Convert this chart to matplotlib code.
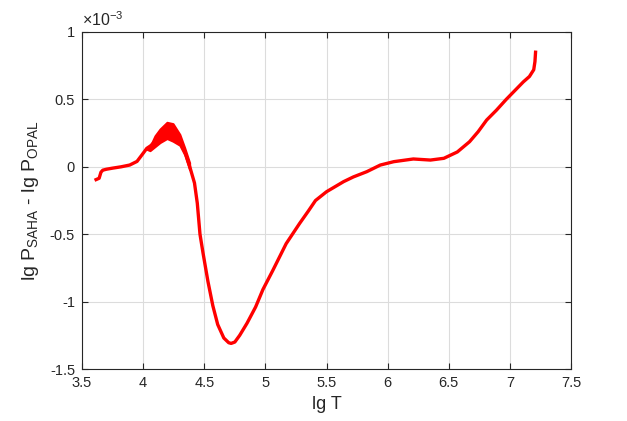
import numpy as np
import matplotlib
matplotlib.use("Agg")
import matplotlib.pyplot as plt

plt.rcParams['font.family'] = ['Liberation Sans', 'DejaVu Sans']
plt.rcParams['mathtext.default'] = 'regular'
plt.rcParams['axes.unicode_minus'] = False

# lg T and (lg P_SAHA - lg P_OPAL) in units of 1e-3
lgT = [3.615, 3.64, 3.655, 3.67, 3.70, 3.75, 3.82, 3.89, 3.95, 3.99, 4.03, 4.06,
       4.10, 4.14, 4.195, 4.245, 4.30, 4.34, 4.38, 4.42, 4.443, 4.465, 4.49, 4.53,
       4.57, 4.61, 4.66, 4.70, 4.72, 4.75, 4.79, 4.85, 4.92, 4.98, 5.06, 5.17,
       5.28, 5.35, 5.41, 5.50, 5.64, 5.72, 5.83, 5.94, 6.05, 6.21, 6.35, 6.46,
       6.57, 6.67, 6.74, 6.81, 6.89, 6.97, 7.04, 7.11, 7.16, 7.195, 7.205, 7.21]
dP = [-0.095, -0.085, -0.04, -0.025, -0.018, -0.01, 0.0, 0.013, 0.04, 0.088, 0.137, 0.155,
      0.19, 0.23, 0.27, 0.255, 0.20, 0.115, 0.005, -0.12, -0.27, -0.50, -0.64, -0.85,
      -1.03, -1.17, -1.27, -1.305, -1.31, -1.30, -1.25, -1.16, -1.04, -0.91, -0.77, -0.57,
      -0.42, -0.33, -0.25, -0.185, -0.11, -0.075, -0.036, 0.013, 0.038, 0.058, 0.05, 0.063,
      0.11, 0.186, 0.26, 0.347, 0.42, 0.50, 0.565, 0.63, 0.67, 0.72, 0.78, 0.85]

# noisy band around the bump near lg T = 4.2
band_T = [4.03, 4.056, 4.097, 4.138, 4.195, 4.244, 4.30, 4.34, 4.38]
band_hi = [0.14, 0.15, 0.23, 0.28, 0.33, 0.32, 0.24, 0.14, 0.03]
band_lo = [0.13, 0.12, 0.15, 0.18, 0.21, 0.19, 0.16, 0.09, -0.02]

xticks = [3.5, 4, 4.5, 5, 5.5, 6, 6.5, 7, 7.5]
yticks = [-1.5, -1, -0.5, 0, 0.5, 1]

fig = plt.figure(figsize=(6.27, 4.21), dpi=100)
ax = fig.add_axes([0.1308, 0.1235, 0.7799, 0.8005])

ax.fill_between(band_T, band_lo, band_hi, color='red', lw=1.5)
ax.plot(lgT, dP, color='red', lw=2.4, solid_joinstyle='round')

ax.set_xlim(3.5, 7.5)
ax.set_ylim(-1.5, 1)
ax.set_xticks(xticks)
ax.set_xticklabels([('%g' % t) for t in xticks])
ax.set_yticks(yticks)
ax.set_yticklabels([('%g' % t) for t in yticks])

ax.grid(True, color='#dcdcdc', lw=0.8)
ax.set_axisbelow(True)
for s in ax.spines.values():
    s.set_color('#262626')
    s.set_linewidth(0.8)
ax.tick_params(direction='in', top=True, right=True, length=4, width=0.8,
               colors='#262626', labelsize=10.5, pad=5)

ax.set_xlabel('lg T', fontsize=13, color='#262626', labelpad=4)
ax.set_ylabel('lg P$_{SAHA}$ - lg P$_{OPAL}$', fontsize=14, color='#262626', labelpad=6)
ax.text(0.0, 1.01, r'$\times 10^{-3}$', transform=ax.transAxes, fontsize=11.5,
        color='#262626', ha='left', va='bottom')

fig.savefig('out.png', dpi=100)
